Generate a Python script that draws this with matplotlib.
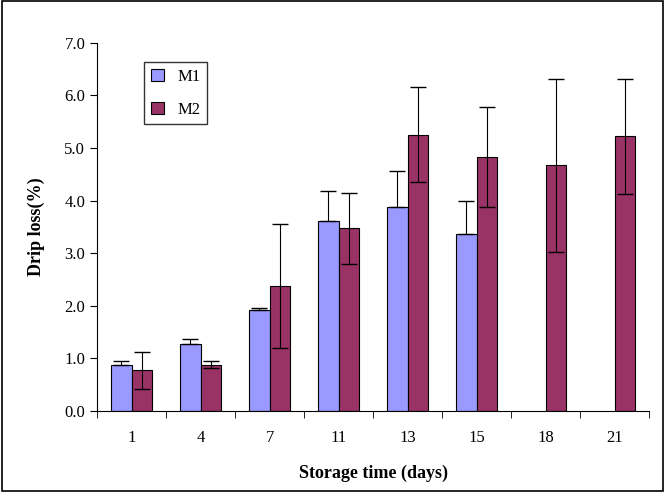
import matplotlib
matplotlib.use("Agg")
import matplotlib.pyplot as plt
import numpy as np

days = ["1", "4", "7", "11", "13", "15", "18", "21"]
m1 = [0.87, 1.27, 1.92, 3.62, 3.88, 3.37, np.nan, np.nan]
m1_err = [0.08, 0.10, 0.03, 0.57, 0.68, 0.62, np.nan, np.nan]
m2 = [0.77, 0.88, 2.37, 3.47, 5.25, 4.82, 4.67, 5.22]
m2_err = [0.35, 0.07, 1.18, 0.68, 0.90, 0.95, 1.65, 1.10]

plt.rcParams['font.family'] = ['Liberation Serif']
fig = plt.figure(figsize=(6.65, 4.92), dpi=100)
ax = fig.add_axes([0.146, 0.165, 0.83, 0.748])
x = np.arange(len(days))
w = 0.3
ax.bar(x - w/2, m1, w, color='#9999FF', edgecolor='black', linewidth=0.8, label='M1')
ax.errorbar(x - w/2, m1, yerr=[np.zeros(8), m1_err], fmt='none', ecolor='black', capsize=6, elinewidth=0.8)
ax.bar(x + w/2, m2, w, color='#993366', edgecolor='black', linewidth=0.8, label='M2')
ax.errorbar(x + w/2, m2, yerr=m2_err, fmt='none', ecolor='black', capsize=6, elinewidth=0.8)
ax.set_ylim(0, 7)
ax.set_xlim(-0.5, 7.5)
ax.set_yticks(np.arange(0, 7.1, 1.0))
ax.set_yticklabels([f"{v:.1f}" for v in np.arange(0, 7.1, 1.0)], fontsize=12)
ax.set_xticks(x)
ax.set_xticklabels(days, fontsize=12)
ax.set_xticks(np.arange(-0.5, 8, 1), minor=True)
ax.tick_params(axis='x', which='major', length=0, pad=14)
ax.tick_params(axis='x', which='minor', length=5, direction='out')
ax.tick_params(axis='y', length=5, direction='out')
for s in ['top', 'right']:
    ax.spines[s].set_visible(False)
ax.set_xlabel("Storage time (days)", fontsize=13, fontweight='bold', labelpad=13)
ax.set_ylabel("Drip loss(%)", fontsize=13, fontweight='bold', labelpad=14)
leg = ax.legend(loc='upper left', bbox_to_anchor=(0.07, 0.97), fontsize=12, fancybox=False,
                edgecolor='black', handlelength=0.8, labelspacing=1.0)
fig.patches.append(plt.Rectangle((0.003, 0.003), 0.994, 0.994, transform=fig.transFigure,
                                 fill=False, edgecolor='black', linewidth=1.2))
fig.savefig("out.png", dpi=100)
